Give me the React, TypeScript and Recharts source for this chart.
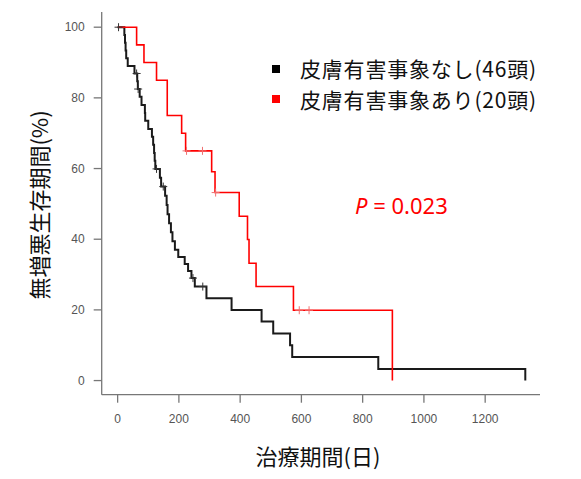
import { ComposedChart, Line, XAxis, YAxis } from 'recharts';

const X_TICKS = [0, 200, 400, 600, 800, 1000, 1200];
const Y_TICKS = [0, 20, 40, 60, 80, 100];

// 皮膚有害事象なし (46頭): event days and survival (%) after each event
const NONE_DAYS = [
  0, 22, 24, 26, 28, 33, 55, 64, 66, 72, 78, 89, 90, 100, 112, 116, 119, 121, 123, 138, 142,
  155, 160, 163, 168, 174, 179, 187, 198, 219, 230, 241, 252, 290, 372, 470, 508, 563, 570, 851, 1331,
];
const NONE_PCT = [
  100, 97.8, 95.6, 93.4, 91.2, 89.0, 86.9, 84.7, 82.5, 80.3, 78.0, 75.7, 73.5, 71.2, 69.0, 66.7,
  64.4, 62.2, 59.9, 57.4, 54.9, 52.3, 49.7, 47.1, 44.5, 42.0, 39.4, 37.0, 35.0, 33.0, 31.0, 29.0,
  26.6, 23.3, 20.0, 16.7, 13.3, 10.0, 6.7, 3.3, 0,
];
const NONE_CENSORED = [3, 62, 67, 127, 149, 246, 278];

// 皮膚有害事象あり (20頭)
const ADV_DAYS = [0, 62, 86, 127, 162, 209, 222, 307, 318, 397, 424, 429, 452, 574, 897];
const ADV_PCT = [100, 95, 90, 85, 75, 70, 65, 59.1, 53.2, 46.5, 39.9, 33.2, 26.6, 19.9, 0];
const ADV_CENSORED = [225, 277, 320, 593, 625];

type Row = { t: number; v: number; c: boolean };

function buildRows(days: number[], pct: number[], censored: number[]): Row[] {
  const rows: Row[] = days.map((t, i) => ({ t, v: pct[i], c: false }));
  censored.forEach((t) => {
    let idx = 0;
    days.forEach((d, i) => {
      if (d <= t) idx = i;
    });
    rows.push({ t, v: pct[idx], c: true });
  });
  return rows.sort((a, b) => a.t - b.t);
}

const noneRows = buildRows(NONE_DAYS, NONE_PCT, NONE_CENSORED);
const advRows = buildRows(ADV_DAYS, ADV_PCT, ADV_CENSORED);

const censorMark = (color: string) => (props: any) => {
  const { cx, cy, payload, index } = props;
  if (!payload?.c) return <g key={index} />;
  return (
    <path
      key={index}
      d={`M${cx - 4},${cy}H${cx + 4}M${cx},${cy - 4}V${cy + 4}`}
      stroke={color}
      strokeWidth={1}
      fill="none"
    />
  );
};

const TICK = { fontSize: 12, fill: '#555', fontFamily: '"Liberation Sans", Arial, sans-serif' };
const AXIS_STROKE = { stroke: '#777', strokeWidth: 1.3 };
const CJK = '"Noto Sans CJK JP", sans-serif';

const legendText = {
  position: 'absolute',
  left: 300,
  height: 21,
  lineHeight: '21px',
  fontFamily: CJK,
  fontSize: 21,
  letterSpacing: 0.8,
  color: '#111',
  whiteSpace: 'nowrap',
} as const;

export default function App() {
  return (
    <div style={{ position: 'absolute', left: 0, top: 0, width: 581, height: 479, background: '#fff' }}>
      <ComposedChart width={581} height={479} margin={{ top: 12, right: 41, bottom: 44.3, left: 0 }}>
        <XAxis
          type="number"
          dataKey="t"
          domain={[-52, 1379]}
          allowDataOverflow
          ticks={X_TICKS}
          tick={TICK}
          tickSize={8}
          tickMargin={12}
          height={40}
          axisLine={AXIS_STROKE}
          tickLine={AXIS_STROKE}
        />
        <YAxis
          type="number"
          domain={[-4, 104.3]}
          allowDataOverflow
          ticks={Y_TICKS}
          tick={TICK}
          tickSize={8}
          tickMargin={9}
          width={101.7}
          axisLine={AXIS_STROKE}
          tickLine={AXIS_STROKE}
        />
        <Line
          data={noneRows}
          type="stepAfter"
          dataKey="v"
          stroke="#1a1a1a"
          strokeWidth={2}
          dot={censorMark('#333')}
          activeDot={false}
          isAnimationActive={false}
        />
        <Line
          data={advRows}
          type="stepAfter"
          dataKey="v"
          stroke="#ff0000"
          strokeWidth={1.6}
          dot={censorMark('#f07070')}
          activeDot={false}
          isAnimationActive={false}
        />
      </ComposedChart>

      <div
        style={{
          position: 'absolute',
          left: 38,
          top: 205,
          transform: 'translate(-50%, -50%) rotate(-90deg)',
          whiteSpace: 'nowrap',
          fontFamily: CJK,
          fontSize: 22,
          color: '#111',
        }}
      >
        無増悪生存期間(%)
      </div>
      <div
        style={{
          position: 'absolute',
          left: 318,
          top: 455,
          transform: 'translate(-50%, -50%)',
          whiteSpace: 'nowrap',
          fontFamily: CJK,
          fontSize: 22,
          color: '#111',
        }}
      >
        治療期間(日)
      </div>

      <div style={{ position: 'absolute', left: 272, top: 64.5, width: 8, height: 8, background: '#000' }} />
      <div style={{ position: 'absolute', left: 272, top: 95, width: 8, height: 8, background: '#ff0000' }} />
      <div style={{ ...legendText, top: 58 }}>皮膚有害事象なし(46頭)</div>
      <div style={{ ...legendText, top: 88.5 }}>皮膚有害事象あり(20頭)</div>

      <div
        style={{
          position: 'absolute',
          left: 355,
          top: 190,
          lineHeight: '30px',
          fontFamily: '"Noto Sans", sans-serif',
          fontSize: 22,
          color: '#ff0000',
          whiteSpace: 'nowrap',
        }}
      >
        <i>P</i> = 0.023
      </div>
    </div>
  );
}
